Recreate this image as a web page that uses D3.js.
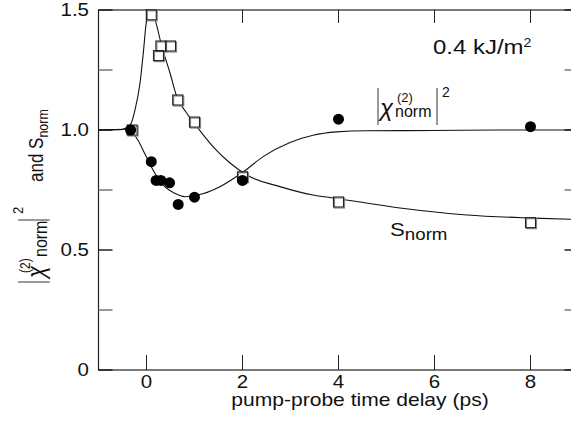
<!DOCTYPE html>
<html>
<head>
	<meta charset="utf-8">
	<title>chi2 and S vs delay</title>
	<script src="https://d3js.org/d3.v7.min.js"></script>
	<style>
		body { margin: 0; background: #fff; }
		text { font-family: 'Liberation Sans', Arial, Helvetica, sans-serif; fill: #111; }
	</style>
</head>
<body>
	<div class="chart"></div>

	<script type="text/javascript">

		// measured points
		var sqX = [-0.3, 0.1, 0.3, 0.5, 0.25, 0.65, 1.0, 2.0, 4.0, 8.0]
		var sqY = [1.0, 1.48, 1.35, 1.35, 1.31, 1.125, 1.033, 0.805, 0.70, 0.614]
		var dotX = [-0.33, 0.1, 0.2, 0.3, 0.48, 0.66, 1.0, 2.0, 4.0, 8.0]
		var dotY = [1.0, 0.868, 0.79, 0.79, 0.78, 0.69, 0.72, 0.79, 1.045, 1.014]

		// fitted curves
		var sFitX = [-1.0, -0.55, -0.45, -0.32, -0.24, -0.135, -0.067, 0.004, 0.094, 0.18, 0.32, 0.49, 0.63, 0.84, 1.05, 1.39, 1.74, 2.09, 2.78, 3.47, 3.89, 5.28, 6.68, 8.05, 9.0]
		var sFitY = [1.0, 1.001, 1.006, 1.028, 1.083, 1.196, 1.32, 1.458, 1.49, 1.458, 1.347, 1.2375, 1.139, 1.07, 1.014, 0.93, 0.8625, 0.8125, 0.764, 0.729, 0.717, 0.675, 0.646, 0.633, 0.627]
		var chiFitX = [-1.0, -0.45, -0.32, -0.18, -0.04, 0.1, 0.24, 0.38, 0.59, 0.8, 1.07, 1.53, 2.02, 2.43, 2.99, 3.47, 3.96, 4.59, 5.97, 7.36, 9.0]
		var chiFitY = [1.0, 1.003, 0.993, 0.958, 0.903, 0.847, 0.799, 0.764, 0.736, 0.722, 0.729, 0.764, 0.826, 0.889, 0.948, 0.978, 0.992, 0.997, 0.998, 1.0, 1.0]

		var xTicks = [0, 2, 4, 6, 8]
		var yTicks = [0, 0.25, 0.5, 0.75, 1.0, 1.25, 1.5]
		var yLabels = ['0', '0.5', '1.0', '1.5']

		var width = 571
		var height = 424
		// plot box (note: "top" is taken by window.top)
		var boxL = 98.5, boxR = 578.5, boxT = 10, boxB = 370
		var stretch = 1.17 // text in the original is a bit wide

		var svg = d3
			.select('.chart')
			.append('svg')
			.attr('width', width)
			.attr('height', height)

		/**
		 * scales
		 */
		var x = d3.scaleLinear().domain([-1, 9]).range([boxL, boxR])
		var y = d3.scaleLinear().domain([0, 1.5]).range([boxB, boxT])

		/**
		 * frame + ticks
		 */
		svg.append('rect')
			.attr('x', boxL).attr('y', boxT)
			.attr('width', boxR - boxL).attr('height', boxB - boxT)
			.attr('fill', 'none').attr('stroke', '#222').attr('stroke-width', 1.2)

		var tickCol = (v) => (Math.abs(v * 2 - Math.round(v * 2)) < 1e-6 ? '#222' : '#777')

		svg.selectAll('.ytl').data(yTicks).enter().append('line')
			.attr('x1', boxL).attr('x2', boxL + 14)
			.attr('y1', (d) => y(d)).attr('y2', (d) => y(d))
			.attr('stroke', tickCol).attr('stroke-width', 1.5)
		svg.selectAll('.ytr').data(yTicks).enter().append('line')
			.attr('x1', boxR - 14).attr('x2', boxR)
			.attr('y1', (d) => y(d)).attr('y2', (d) => y(d))
			.attr('stroke', tickCol).attr('stroke-width', 1.5)
		svg.selectAll('.xtb').data(xTicks).enter().append('line')
			.attr('x1', (d) => x(d)).attr('x2', (d) => x(d))
			.attr('y1', boxB).attr('y2', boxB - 15)
			.attr('stroke', '#222').attr('stroke-width', 1)
		svg.selectAll('.xtt').data(xTicks).enter().append('line')
			.attr('x1', (d) => x(d)).attr('x2', (d) => x(d))
			.attr('y1', boxT).attr('y2', boxT + 13)
			.attr('stroke', '#222').attr('stroke-width', 1)

		// tick labels
		svg.selectAll('.xl').data(xTicks).enter().append('text')
			.attr('transform', (d) => `translate(${x(d)}, 388) scale(${stretch}, 1)`)
			.attr('text-anchor', 'middle')
			.style('font-size', '17.5px')
			.text((d) => d)
		svg.selectAll('.yl').data(yLabels).enter().append('text')
			.attr('transform', (d) => `translate(89, ${y(+d) + 6}) scale(${stretch}, 1)`)
			.attr('text-anchor', 'end')
			.style('font-size', '17.5px')
			.text((d) => d)

		svg.append('text')
			.attr('transform', `translate(360, 406) scale(${stretch}, 1)`)
			.attr('text-anchor', 'middle')
			.style('font-size', '18px')
			.text('pump-probe time delay (ps)')

		/**
		 * y label, rotated
		 */
		var yl = svg.append('g').attr('transform', `translate(45, 290) scale(${stretch}, 1) rotate(-90)`)
		yl.append('line').attr('x1', 8).attr('x2', 8).attr('y1', -23).attr('y2', 4)
			.attr('stroke', '#777').attr('stroke-width', 1.5)
		yl.append('line').attr('x1', 70).attr('x2', 70).attr('y1', -23).attr('y2', 4)
			.attr('stroke', '#777').attr('stroke-width', 1.5)
		yl.append('text').attr('x', 12).attr('y', 0).style('font-size', '22px').style('font-style', 'italic').text('χ')
		yl.append('text').attr('x', 17).attr('y', -13).style('font-size', '12px').text('(2)')
		yl.append('text').attr('x', 33).attr('y', 2).style('font-size', '16px').text('norm')
		yl.append('text').attr('x', 76).attr('y', -19).style('font-size', '13px').text('2')
		var ys = yl.append('text').attr('x', 108).attr('y', -1.5).style('font-size', '17px')
		ys.append('tspan').text('and S')
		ys.append('tspan').attr('dy', 4).style('font-size', '12.5px').text('norm')

		/**
		 * fit curves
		 */
		var line = d3.line().x((d) => x(d[0])).y((d) => y(d[1])).curve(d3.curveMonotoneX)
		svg.append('path')
			.attr('d', line(d3.zip(sFitX, sFitY)))
			.attr('fill', 'none').attr('stroke', '#111').attr('stroke-width', 1.1)
		svg.append('path')
			.attr('d', line(d3.zip(chiFitX, chiFitY)))
			.attr('fill', 'none').attr('stroke', '#111').attr('stroke-width', 1.1)

		/**
		 * markers
		 */
		var sq = 10
		var sqData = d3.zip(sqX, sqY)
		svg.selectAll('.sqs').data(sqData).enter().append('rect')
			.attr('x', (d) => x(d[0]) - sq / 2 + 1).attr('y', (d) => y(d[1]) - sq / 2 + 1)
			.attr('width', sq).attr('height', sq)
			.attr('fill', '#fff').attr('stroke', '#888').attr('stroke-width', 1.2)
		svg.selectAll('.sq').data(sqData).enter().append('rect')
			.attr('x', (d) => x(d[0]) - sq / 2).attr('y', (d) => y(d[1]) - sq / 2)
			.attr('width', sq).attr('height', sq)
			.attr('fill', 'none').attr('stroke', '#222').attr('stroke-width', 1.1)

		svg.selectAll('.dot').data(d3.zip(dotX, dotY)).enter().append('circle')
			.attr('cx', (d) => x(d[0])).attr('cy', (d) => y(d[1]))
			.attr('r', 5.5)
			.attr('fill', '#000')

		/**
		 * annotations
		 */
		var t1 = svg.append('text')
			.attr('transform', `translate(433, 54) scale(${stretch}, 1)`)
			.style('font-size', '20.5px')
		t1.append('tspan').text('0.4 kJ/m')
		t1.append('tspan').attr('dy', -7).style('font-size', '12px').text('2')

		var cl = svg.append('g').attr('transform', 'translate(378, 0)')
		cl.append('line').attr('x1', 0).attr('x2', 0).attr('y1', 88).attr('y2', 125).attr('stroke', '#333').attr('stroke-width', 1)
		cl.append('line').attr('x1', 59).attr('x2', 59).attr('y1', 88).attr('y2', 125).attr('stroke', '#333').attr('stroke-width', 1)
		cl.append('text').attr('x', 2).attr('y', 116).style('font-size', '24px').style('font-style', 'italic').text('χ')
		cl.append('text').attr('x', 19).attr('y', 102).style('font-size', '13px').text('(2)')
		cl.append('text').attr('x', 17).attr('y', 117).style('font-size', '16px').text('norm')
		cl.append('text').attr('x', 64).attr('y', 97).style('font-size', '14px').text('2')

		var sl = svg.append('text')
			.attr('transform', `translate(390, 236) scale(${stretch}, 1)`)
			.style('font-size', '19px')
		sl.append('tspan').text('S')
		sl.append('tspan').attr('dy', 4).style('font-size', '16px').text('norm')

	</script>
</body>
</html>
